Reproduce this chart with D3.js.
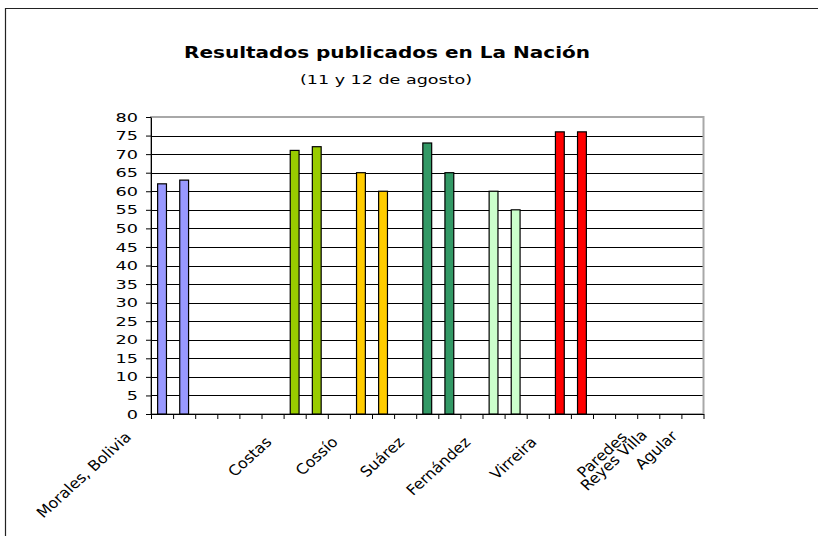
<!DOCTYPE html>
<html lang="es">
<head>
<meta charset="utf-8">
<title>Resultados publicados en La Nación</title>
<script src="https://d3js.org/d3.v7.min.js"></script>
<style>
  body { margin: 0; background: #fff; }
  svg text { font-family: "DejaVu Sans", Verdana, sans-serif; fill: #000; }
</style>
</head>
<body>
<svg id="chart" width="818" height="536"></svg>
<script>
// one slot per category on the x axis; empty slots keep the Excel spacing
const slotLabels = ["Morales, Bolivia", "", "", "", "", "Costas", "", "", "Cossío", "", "", "Suárez", "", "",
                    "Fernández", "", "", "Virreira", "", "", "", "Paredes", "Reyes Villa", "Agular", ""];
const values = [62, 63, null, null, null, null, 71, 72, null, 65, 60, null, 73, 65, null,
                60, 55, null, 76, 76, null, null, null, null, null];
const barColors = ["#9999FF", "#9999FF", null, null, null, null, "#99CC00", "#99CC00", null, "#FFCC00", "#FFCC00", null,
                   "#339966", "#339966", null, "#CCFFCC", "#CCFFCC", null, "#FF0000", "#FF0000", null, null, null, null, null];
const yTicks = d3.range(0, 85, 5);
const title = "Resultados publicados en La Nación";
const subtitle = "(11 y 12 de agosto)";

const svg = d3.select("#chart");
const plotL = 151, plotR = 703.5, plotT = 117, plotB = 414;

// frame of the chart object (only left and top edges are in view)
svg.append("path")
  .attr("d", "M5.5,536 V8.5 H818")
  .attr("fill", "none").attr("stroke", "#222").attr("stroke-width", 1.2);

svg.append("text")
  .attr("x", 387).attr("y", 58)
  .attr("text-anchor", "middle")
  .attr("font-size", 16).attr("font-weight", "bold")
  .attr("textLength", 406).attr("lengthAdjust", "spacingAndGlyphs")
  .text(title);
svg.append("text")
  .attr("x", 386).attr("y", 84)
  .attr("text-anchor", "middle")
  .attr("font-size", 13)
  .attr("textLength", 172).attr("lengthAdjust", "spacingAndGlyphs")
  .text(subtitle);

const x = d3.scaleBand().domain(d3.range(slotLabels.length)).range([plotL, plotR]).padding(0);
const xEdge = d3.scaleLinear().domain([0, slotLabels.length]).range([plotL, plotR]);
const y = d3.scaleLinear().domain([0, 80]).range([plotB, plotT]);

// gridlines
svg.append("g").selectAll("line")
  .data(yTicks.filter(d => d > 0 && d < 80))
  .join("line")
  .attr("x1", plotL).attr("x2", plotR)
  .attr("y1", d => Math.round(y(d)) + 0.5).attr("y2", d => Math.round(y(d)) + 0.5)
  .attr("stroke", "#000").attr("stroke-width", 1);

// plot area border
svg.append("rect")
  .attr("x", plotL).attr("y", plotT)
  .attr("width", plotR - plotL).attr("height", plotB - plotT)
  .attr("fill", "none").attr("stroke", "#a8a8a8").attr("stroke-width", 2);

// bars, gap width 150%
const bw = x.bandwidth() / 2.5;
svg.append("g").selectAll("rect")
  .data(slotLabels.map((d, i) => i).filter(i => values[i] != null))
  .join("rect")
  .attr("x", i => x(i) + (x.bandwidth() - bw) / 2)
  .attr("y", i => y(values[i]))
  .attr("width", bw)
  .attr("height", i => y(0) - y(values[i]))
  .attr("fill", i => barColors[i])
  .attr("stroke", "#000").attr("stroke-width", 1.2);

// y axis
const yAxis = svg.append("g")
  .attr("transform", `translate(${plotL},0)`)
  .call(d3.axisLeft(y).tickValues(yTicks).tickSize(5).tickSizeOuter(0));
yAxis.select(".domain").attr("stroke", "#000");
yAxis.selectAll(".tick line").attr("stroke", "#000");
yAxis.selectAll(".tick text")
  .attr("x", 0).attr("dy", "0.36em")
  .attr("font-family", null).attr("font-size", 11.4)
  .attr("transform", "translate(-13,0) scale(1.55,1)");

// x axis with ticks between categories
const xAxis = svg.append("g")
  .attr("transform", `translate(0,${plotB})`)
  .call(d3.axisBottom(xEdge).tickValues(d3.range(slotLabels.length + 1)).tickFormat("").tickSize(5).tickSizeOuter(0));
xAxis.select(".domain").attr("stroke", "#000");
xAxis.selectAll(".tick line").attr("stroke", "#000");

// rotated category names
const nudge = { 0: [-30, -5], 21: [2, -5], 22: [0, -7], 23: [8, -6] };
svg.append("g").selectAll("text")
  .data(slotLabels.map((d, i) => i).filter(i => slotLabels[i] !== ""))
  .join("text")
  .attr("text-anchor", "end")
  .attr("font-size", 14.5)
  .attr("transform", i => {
    const n = nudge[i] || [0, 0];
    const ax = x(i) + x.bandwidth() / 2 + n[0];
    const ay = plotB + 29 + n[1];
    return `translate(${ax},${ay}) scale(1.1,1) rotate(-45)`;
  })
  .text(i => slotLabels[i]);
</script>
</body>
</html>
